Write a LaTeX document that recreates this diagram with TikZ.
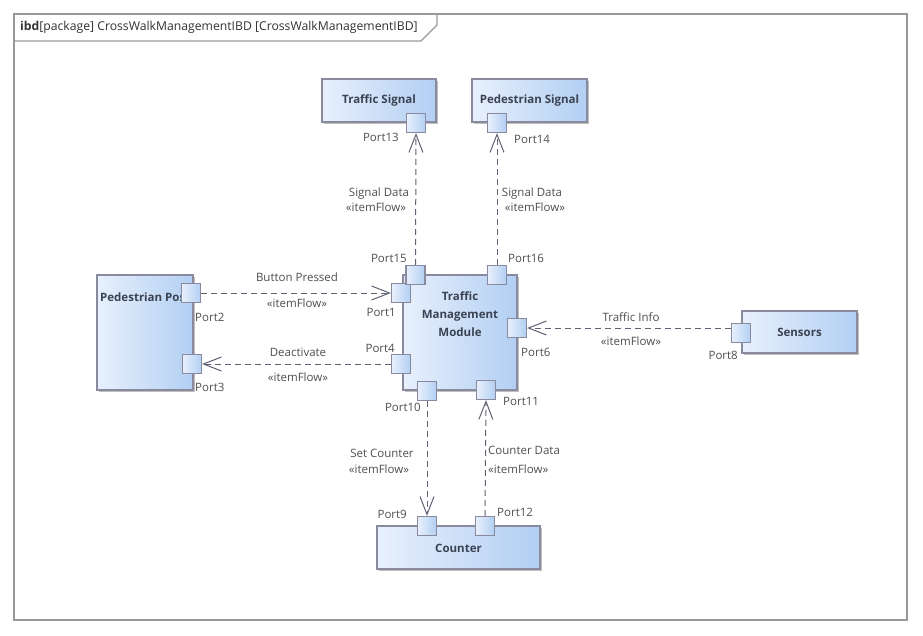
\documentclass[tikz,border=0pt]{standalone}
\usepackage{fontspec}
\setmainfont{Open Sans}
\usetikzlibrary{arrows.meta,shadows}
\definecolor{blkL}{HTML}{E8F0FC}
\definecolor{blkR}{HTML}{B2CFF3}
\definecolor{blkB}{HTML}{8A8A9E}
\definecolor{conn}{HTML}{5F6174}
\definecolor{txt}{HTML}{3B4352}
\definecolor{lbl}{HTML}{4F4F4F}
\definecolor{frm}{HTML}{999999}
\begin{document}
\begin{tikzpicture}[x=1pt,y=-1pt,
 block/.style={draw=blkB, line width=1.2pt, left color=blkL, right color=blkR, inner sep=0pt,
   drop shadow={shadow xshift=2pt, shadow yshift=-2pt, fill=black, opacity=0.25}},
 port/.style={draw=blkB, line width=1.2pt, left color=blkL, right color=blkR, minimum size=19pt, inner sep=0pt},
 btxt/.style={font=\fontsize{11.5}{18}\selectfont\bfseries, text=txt, inner sep=0pt},
 plbl/.style={font=\fontsize{11.5}{14}\selectfont, text=lbl, inner sep=0pt},
 flow/.style={draw=conn, line width=1pt, dash pattern=on 6pt off 4pt, -{Straight Barb[length=18pt,width=14pt]}},
]
\fill[white] (0,0) rectangle (923,636);
\useasboundingbox (0,0) rectangle (923,636);
% frame
\draw[frm, line width=1.6pt] (14,14) rectangle (907,620);
\draw[frm, line width=1.2pt] (14,41) -- (421,41) -- (437,25) -- (437,14);
\node[anchor=west, inner sep=0pt, font=\fontsize{12.2}{14}\selectfont, text=black!80] (title) at (20,27.5) {\textbf{ibd}[package] CrossWalkManagementIBD [CrossWalkManagementIBD]};

% blocks
\node[block, minimum width=114pt, minimum height=43pt] (ts) at (379,100.5) {};
\node[btxt] (tst) at (379,100.5) {Traffic Signal};
\node[block, minimum width=115pt, minimum height=43pt] (ps) at (529.5,100.5) {};
\node[btxt] (pst) at (529.5,100.5) {Pedestrian Signal};
\node[block, minimum width=96pt, minimum height=115pt] (pp) at (145,332.5) {};
\node[btxt, anchor=west] (ppt) at (100,297) {Pedestrian Pos};
\node[block, minimum width=114pt, minimum height=115pt] (tmm) at (460,332.5) {};
\node[btxt, align=center] (tmmt) at (460,314) {Traffic\\Management\\Module};
\node[block, minimum width=115pt, minimum height=42pt] (sen) at (799.5,332) {};
\node[btxt] (sent) at (799.5,332) {Sensors};
\node[block, minimum width=163pt, minimum height=43pt] (cnt) at (458.5,547.5) {};
\node[btxt] (cntt) at (458.5,548) {Counter};

% ports
\node[port] (p13) at (416,123) {};
\node[port] (p14) at (497,123) {};
\node[port] (p1) at (401,293) {};
\node[port] (p15) at (415.5,275) {};
\node[port] (p16) at (497,275) {};
\node[port] (p4) at (401,364) {};
\node[port] (p6) at (517,328) {};
\node[port] (p10) at (427,391) {};
\node[port] (p11) at (486,390) {};
\node[port] (p2) at (191,293) {};
\node[port] (p3) at (192,364) {};
\node[port] (p8) at (741,333) {};
\node[port] (p9) at (427,526) {};
\node[port] (p12) at (485,526) {};

% port labels
\node[plbl, anchor=east] (l13) at (399,137) {Port13};
\node[plbl, anchor=west] (l14) at (514,139) {Port14};
\node[plbl, anchor=east] (l15) at (407,258) {Port15};
\node[plbl, anchor=west] (l16) at (508,258) {Port16};
\node[plbl, anchor=east] (l1) at (396,312) {Port1};
\node[plbl, anchor=east] (l4) at (395,348) {Port4};
\node[plbl, anchor=west] (l2) at (195,317) {Port2};
\node[plbl, anchor=west] (l3) at (195,387) {Port3};
\node[plbl, anchor=west] (l6) at (521,352) {Port6};
\node[plbl, anchor=east] (l8) at (738,355) {Port8};
\node[plbl, anchor=east] (l10) at (421,407) {Port10};
\node[plbl, anchor=west] (l11) at (503,401) {Port11};
\node[plbl, anchor=east] (l9) at (407,514) {Port9};
\node[plbl, anchor=west] (l12) at (497,512) {Port12};

% connectors
\draw[flow] (p15.north) -- (p13.south);
\draw[flow] (p16.north) -- (p14.south);
\draw[flow] (p2.east) -- (p1.west);
\draw[flow] (p4.west) -- (p3.east);
\draw[flow] (p8.west |- p6.east) -- (p6.east);
\draw[flow] (p10.south) -- (p9.north);
\draw[flow] (p12.north) -- (p11.south);

% flow labels
\node[plbl] (f1a) at (379,194) {Signal Data};
\node[plbl] (f1b) at (376,207) {«itemFlow»};
\node[plbl] (f2a) at (532,194) {Signal Data};
\node[plbl] (f2b) at (535,207) {«itemFlow»};
\node[plbl] (f3a) at (297,277) {Button Pressed};
\node[plbl] (f3b) at (297,303) {«itemFlow»};
\node[plbl] (f4a) at (298,352) {Deactivate};
\node[plbl] (f4b) at (298,377) {«itemFlow»};
\node[plbl] (f5a) at (631,317) {Traffic Info};
\node[plbl] (f5b) at (631,341) {«itemFlow»};
\node[plbl] (f6a) at (382,453) {Set Counter};
\node[plbl] (f6b) at (379,469) {«itemFlow»};
\node[plbl, anchor=west] (f7a) at (488,450) {Counter Data};
\node[plbl, anchor=west] (f7b) at (488,469) {«itemFlow»};
\end{tikzpicture}
\end{document}
